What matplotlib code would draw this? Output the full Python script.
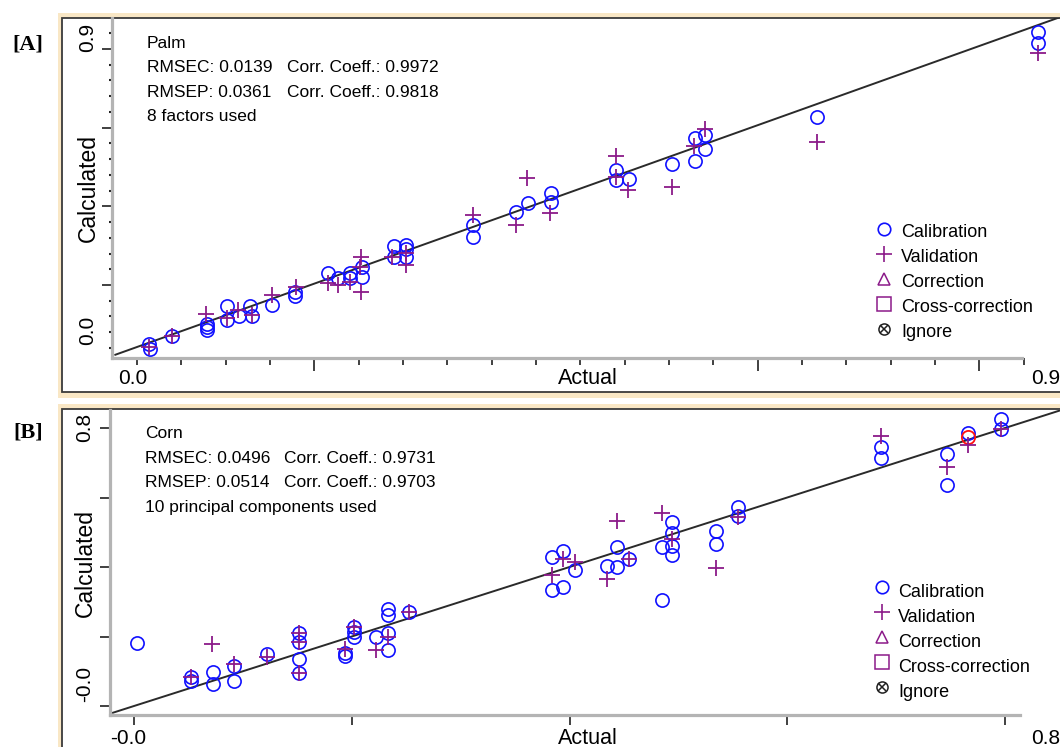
import numpy as np
import matplotlib
matplotlib.use("Agg")
import matplotlib.pyplot as plt
from matplotlib.lines import Line2D
from matplotlib.patches import Rectangle

plt.rcParams["font.family"] = ["Liberation Sans", "DejaVu Sans"]

W, H = 1060, 747

# ---- Palm (panel A) ----
palm_cal_x = [0.012, 0.013, 0.036, 0.071, 0.071, 0.071, 0.091, 0.091, 0.104, 0.115, 0.117, 0.137,
              0.160, 0.160, 0.194, 0.204, 0.216, 0.216, 0.228, 0.228, 0.261, 0.261, 0.273, 0.273,
              0.273, 0.341, 0.341, 0.385, 0.397, 0.420, 0.420, 0.486, 0.486, 0.499, 0.543, 0.566,
              0.566, 0.577, 0.577, 0.690, 0.915, 0.915]
palm_cal_y = [0.009, -0.006, 0.031, 0.065, 0.057, 0.048, 0.116, 0.077, 0.088, 0.116, 0.088, 0.119,
              0.156, 0.145, 0.210, 0.196, 0.210, 0.196, 0.227, 0.199, 0.287, 0.256, 0.290, 0.278,
              0.256, 0.347, 0.313, 0.384, 0.409, 0.438, 0.412, 0.503, 0.474, 0.477, 0.520, 0.594,
              0.528, 0.602, 0.563, 0.653, 0.895, 0.864]
palm_val_x = [0.012, 0.036, 0.070, 0.091, 0.103, 0.117, 0.137, 0.161, 0.194, 0.204, 0.216, 0.227,
              0.227, 0.226, 0.259, 0.273, 0.273, 0.341, 0.385, 0.396, 0.419, 0.486, 0.486, 0.498,
              0.543, 0.565, 0.577, 0.690, 0.915]
palm_val_y = [0.000, 0.031, 0.094, 0.082, 0.105, 0.091, 0.148, 0.170, 0.182, 0.176, 0.185, 0.256,
              0.156, 0.227, 0.256, 0.233, 0.267, 0.375, 0.347, 0.480, 0.381, 0.543, 0.483, 0.446,
              0.455, 0.571, 0.619, 0.582, 0.835]

# ---- Corn (panel B) ----
corn_cal_x = [0.003, 0.052, 0.052, 0.073, 0.073, 0.092, 0.092, 0.122, 0.152, 0.152, 0.152, 0.152,
              0.194, 0.194, 0.202, 0.202, 0.202, 0.222, 0.233, 0.233, 0.233, 0.233, 0.253, 0.384,
              0.384, 0.394, 0.394, 0.405, 0.434, 0.444, 0.444, 0.455, 0.485, 0.485, 0.494, 0.494,
              0.494, 0.494, 0.535, 0.535, 0.555, 0.555, 0.686, 0.686, 0.747, 0.747, 0.766, 0.796,
              0.796]
corn_cal_y = [0.181, 0.083, 0.072, 0.098, 0.063, 0.115, 0.072, 0.150, 0.210, 0.184, 0.135, 0.095,
              0.153, 0.144, 0.227, 0.213, 0.199, 0.199, 0.279, 0.262, 0.210, 0.161, 0.271, 0.429,
              0.334, 0.446, 0.342, 0.391, 0.403, 0.458, 0.400, 0.423, 0.458, 0.305, 0.529, 0.498,
              0.460, 0.435, 0.504, 0.466, 0.573, 0.547, 0.745, 0.714, 0.725, 0.636, 0.786, 0.826,
              0.797]
corn_val_x = [0.052, 0.072, 0.092, 0.122, 0.152, 0.152, 0.152, 0.194, 0.202, 0.222, 0.233, 0.253,
              0.384, 0.394, 0.405, 0.434, 0.444, 0.455, 0.485, 0.494, 0.535, 0.555, 0.686, 0.747,
              0.766, 0.796]
corn_val_y = [0.083, 0.178, 0.121, 0.141, 0.210, 0.184, 0.095, 0.164, 0.227, 0.161, 0.199, 0.271,
              0.377, 0.423, 0.414, 0.365, 0.532, 0.423, 0.555, 0.481, 0.397, 0.544, 0.777, 0.688,
              0.751, 0.797]
corn_red_x = [0.766]
corn_red_y = [0.774]

legend_labels = ["Calibration", "Validation", "Correction", "Cross-correction", "Ignore"]

BLUE = "#1010ff"
PURPLE = "#8b1a89"
BEIGE = "#f9e7c5"


def fx(px):
    return px / W


def fy(py):
    return 1 - py / H


fig = plt.figure(figsize=(W / 100, H / 100), dpi=100)

# panel frames (beige band + dark line), kept behind the axes
for top, bot in [(13, 398), (404, 760)]:
    fig.add_artist(Rectangle((fx(58), fy(bot)), fx(1100) - fx(58), fy(top) - fy(bot),
                             transform=fig.transFigure, facecolor=BEIGE, edgecolor="none",
                             zorder=-10))
    fig.add_artist(Rectangle((fx(62), fy(bot - 6)), fx(1100) - fx(62), fy(top + 5) - fy(bot - 6),
                             transform=fig.transFigure, facecolor="white",
                             edgecolor="#3a3a3a", lw=1.3, zorder=-9))


def make_axes(left, top, right, bottom):
    ax = fig.add_axes([fx(left), fy(bottom), fx(right) - fx(left), fy(top) - fy(bottom)])
    ax.patch.set_alpha(0)
    for s in ["top", "right"]:
        ax.spines[s].set_visible(False)
    for s in ["left", "bottom"]:
        ax.spines[s].set_color("#b4b4b4")
        ax.spines[s].set_linewidth(2.3)
    ax.tick_params(labelleft=False, labelbottom=False, color="#202020", width=1.2)
    return ax


def draw_points(ax, cx, cy, vx, vy):
    ax.plot(cx, cy, "o", ls="none", mfc="none", mec=BLUE, mew=1.2, ms=9.5, zorder=3, clip_on=False)
    ax.plot(vx, vy, "+", ls="none", color=PURPLE, mew=1.3, ms=11, zorder=4, clip_on=False)


def draw_legend(xm, xt, ym, yt):
    specs = [dict(marker="o", mfc="none", mec=BLUE, ms=9, mew=1.2),
             dict(marker="+", color=PURPLE, ms=11, mew=1.2),
             dict(marker="^", mfc="none", mec=PURPLE, ms=9, mew=1.1),
             dict(marker="s", mfc="none", mec=PURPLE, ms=9.5, mew=1.1)]
    for i, lab in enumerate(legend_labels):
        if i < 4:
            fig.add_artist(Line2D([fx(xm)], [fy(ym + 25 * i)], transform=fig.transFigure,
                                  ls="none", **specs[i]))
        else:
            for m, s in [("o", 8), ("x", 6)]:
                fig.add_artist(Line2D([fx(xm)], [fy(ym + 25 * i)], transform=fig.transFigure,
                                      ls="none", marker=m, mfc="none", mec="#202020", ms=s, mew=1.1))
        fig.text(fx(xt), fy(yt + 25 * i), lab, fontsize=13, va="baseline", ha="left")


# ================= Panel A =================
axA = make_axes(112, 18, 1060, 358)
axA.set_xlim((112 - 137) / 985, (1060 - 137) / 985)
axA.set_ylim((347 - 358) / 352, (347 - 18) / 352)
axA.spines["bottom"].set_bounds((112 - 137) / 985, (1022 - 137) / 985)
xt = np.arange(21) * 0.045
axA.set_xticks(xt[[4, 14, 19]])
axA.set_xticks(np.delete(xt, [4, 14, 19]), minor=True)
yt = 0.8466 - 0.0447 * np.arange(-1, 20)
axA.set_yticks(yt[[1, 6, 11, 16]])
axA.set_yticks(np.delete(yt, [1, 6, 11, 16]), minor=True)
axA.tick_params(axis="x", which="major", direction="out", length=9)
axA.tick_params(axis="x", which="minor", direction="out", length=5, width=1.2, color="#202020")
axA.tick_params(axis="y", which="major", direction="out", length=7)
axA.tick_params(axis="y", which="minor", direction="out", length=2, width=1.5, color="#202020")
axA.plot([-0.022, 0.94], [-0.022, 0.94], color="#2a2a2a", lw=1.4, zorder=2)
draw_points(axA, palm_cal_x, palm_cal_y, palm_val_x, palm_val_y)

for i, s in enumerate(["Palm", "RMSEC: 0.0139", "RMSEP: 0.0361", "8 factors used"]):
    fig.text(fx(147), fy(48 + 24.4 * i), s, fontsize=12.5, va="baseline")
fig.text(fx(287), fy(48 + 24.4), "Corr. Coeff.: 0.9972", fontsize=12.5, va="baseline")
fig.text(fx(287), fy(48 + 48.8), "Corr. Coeff.: 0.9818", fontsize=12.5, va="baseline")
draw_legend(884, 901, 229, 237)

fig.text(fx(88), fy(188), "Calculated", rotation=90, fontsize=16.5, ha="center", va="center")
fig.text(fx(88), fy(37), "0.9", rotation=90, fontsize=15, ha="center", va="center")
fig.text(fx(88), fy(330), "0.0", rotation=90, fontsize=15, ha="center", va="center")
fig.text(fx(588), fy(378), "Actual", fontsize=15.5, ha="center", va="center")
fig.text(fx(133), fy(379), "0.0", fontsize=15, ha="center", va="center")
fig.text(fx(1031), fy(379), "0.9", fontsize=15, ha="left", va="center")
fig.text(fx(28), fy(45), "[A]", fontsize=16, fontweight="bold", family="Liberation Serif",
         ha="center", va="center")

# ================= Panel B =================
axB = make_axes(110, 410, 1060, 715)
axB.set_xlim((110 - 134) / 1088.75, (1060 - 134) / 1088.75)
axB.set_ylim((706 - 715) / 347.5, (706 - 410) / 347.5)
axB.spines["bottom"].set_bounds((110 - 134) / 1088.75, (1020 - 134) / 1088.75)
axB.set_xticks([0, 0.2, 0.4, 0.6, 0.8])
axB.set_yticks([0, 0.2, 0.4, 0.6, 0.8])
axB.tick_params(axis="both", which="major", direction="out", length=7)
axB.plot([-0.0193, 0.86], [-0.0193, 0.86], color="#2a2a2a", lw=1.4, zorder=2)
draw_points(axB, corn_cal_x, corn_cal_y, corn_val_x, corn_val_y)
axB.plot(corn_red_x, corn_red_y, "o", mfc="none", mec="#ff1010", mew=1.3, ms=9.5, zorder=3)

for i, s in enumerate(["Corn", "RMSEC: 0.0496", "RMSEP: 0.0514", "10 principal components used"]):
    fig.text(fx(145), fy(438 + 24.7 * i), s, fontsize=12.5, va="baseline")
fig.text(fx(284), fy(438 + 24.7), "Corr. Coeff.: 0.9731", fontsize=12.5, va="baseline")
fig.text(fx(284), fy(438 + 49.4), "Corr. Coeff.: 0.9703", fontsize=12.5, va="baseline")
draw_legend(882, 898, 587, 597)

fig.text(fx(85), fy(563), "Calculated", rotation=90, fontsize=16.5, ha="center", va="center")
fig.text(fx(85), fy(427), "0.8", rotation=90, fontsize=15, ha="center", va="center")
fig.text(fx(85), fy(684), "-0.0", rotation=90, fontsize=15, ha="center", va="center")
fig.text(fx(588), fy(738), "Actual", fontsize=15.5, ha="center", va="center")
fig.text(fx(128), fy(739), "-0.0", fontsize=15, ha="center", va="center")
fig.text(fx(1031), fy(739), "0.8", fontsize=15, ha="left", va="center")
fig.text(fx(28), fy(433), "[B]", fontsize=16, fontweight="bold", family="Liberation Serif",
         ha="center", va="center")

fig.savefig("out.png", dpi=100)
